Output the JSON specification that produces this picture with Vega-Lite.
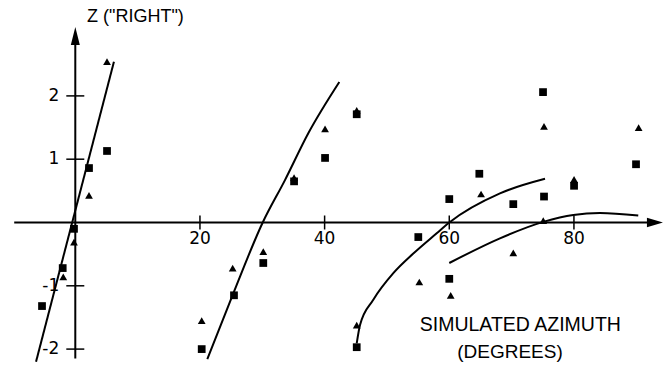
{
  "$schema": "https://vega.github.io/schema/vega-lite/v6.json",
  "width": 666,
  "height": 381,
  "padding": 0,
  "autosize": {"type": "none"},
  "background": "white",
  "config": {"view": {"stroke": null}},
  "datasets": {
    "points": [
      {"azimuth": -5.34, "z": -1.32, "marker": "square"},
      {"azimuth": -2.02, "z": -0.72, "marker": "square"},
      {"azimuth": -0.21, "z": -0.10, "marker": "square"},
      {"azimuth": 2.20, "z": 0.86, "marker": "square"},
      {"azimuth": 5.09, "z": 1.13, "marker": "square"},
      {"azimuth": 20.28, "z": -2.00, "marker": "square"},
      {"azimuth": 25.46, "z": -1.15, "marker": "square"},
      {"azimuth": 30.16, "z": -0.64, "marker": "square"},
      {"azimuth": 35.10, "z": 0.65, "marker": "square"},
      {"azimuth": 40.07, "z": 1.02, "marker": "square"},
      {"azimuth": 45.15, "z": 1.71, "marker": "square"},
      {"azimuth": 45.15, "z": -1.97, "marker": "square"},
      {"azimuth": 55.03, "z": -0.23, "marker": "square"},
      {"azimuth": 60.00, "z": 0.37, "marker": "square"},
      {"azimuth": 60.00, "z": -0.89, "marker": "square"},
      {"azimuth": 64.82, "z": 0.77, "marker": "square"},
      {"azimuth": 70.27, "z": 0.29, "marker": "square"},
      {"azimuth": 75.20, "z": 0.41, "marker": "square"},
      {"azimuth": 75.04, "z": 2.06, "marker": "square"},
      {"azimuth": 80.02, "z": 0.58, "marker": "square"},
      {"azimuth": 89.96, "z": 0.92, "marker": "square"},
      {"azimuth": 5.09, "z": 2.54, "marker": "triangle"},
      {"azimuth": 2.20, "z": 0.43, "marker": "triangle"},
      {"azimuth": -0.21, "z": -0.31, "marker": "triangle"},
      {"azimuth": -1.93, "z": -0.86, "marker": "triangle"},
      {"azimuth": 20.28, "z": -1.55, "marker": "triangle"},
      {"azimuth": 25.25, "z": -0.72, "marker": "triangle"},
      {"azimuth": 30.16, "z": -0.46, "marker": "triangle"},
      {"azimuth": 35.10, "z": 0.71, "marker": "triangle"},
      {"azimuth": 40.07, "z": 1.48, "marker": "triangle"},
      {"azimuth": 45.15, "z": 1.77, "marker": "triangle"},
      {"azimuth": 45.15, "z": -1.62, "marker": "triangle"},
      {"azimuth": 55.19, "z": -0.94, "marker": "triangle"},
      {"azimuth": 60.23, "z": -1.15, "marker": "triangle"},
      {"azimuth": 65.10, "z": 0.45, "marker": "triangle"},
      {"azimuth": 70.27, "z": -0.48, "marker": "triangle"},
      {"azimuth": 75.08, "z": 0.03, "marker": "triangle"},
      {"azimuth": 75.20, "z": 1.52, "marker": "triangle"},
      {"azimuth": 80.02, "z": 0.68, "marker": "triangle"},
      {"azimuth": 90.38, "z": 1.50, "marker": "triangle"}
    ],
    "curves": [
      {"curve": "A", "azimuth": -6.3, "z": -2.2},
      {"curve": "A", "azimuth": 6.2, "z": 2.54},
      {"curve": "B", "azimuth": 21.18, "z": -2.16},
      {"curve": "B", "azimuth": 25.35, "z": -1.12},
      {"curve": "B", "azimuth": 30.07, "z": 0.0},
      {"curve": "B", "azimuth": 33.64, "z": 0.67},
      {"curve": "B", "azimuth": 37.38, "z": 1.41},
      {"curve": "B", "azimuth": 42.36, "z": 2.22},
      {"curve": "C", "azimuth": 45.15, "z": -1.91},
      {"curve": "C", "azimuth": 45.68, "z": -1.62},
      {"curve": "C", "azimuth": 47.81, "z": -1.22},
      {"curve": "C", "azimuth": 51.02, "z": -0.80},
      {"curve": "C", "azimuth": 54.23, "z": -0.49},
      {"curve": "C", "azimuth": 57.98, "z": -0.17},
      {"curve": "C", "azimuth": 60.0, "z": 0.0},
      {"curve": "C", "azimuth": 68.13, "z": 0.46},
      {"curve": "C", "azimuth": 75.36, "z": 0.69},
      {"curve": "D", "azimuth": 60.0, "z": -0.64},
      {"curve": "D", "azimuth": 68.13, "z": -0.25},
      {"curve": "D", "azimuth": 75.08, "z": 0.01},
      {"curve": "D", "azimuth": 79.9, "z": 0.12},
      {"curve": "D", "azimuth": 84.17, "z": 0.15},
      {"curve": "D", "azimuth": 90.32, "z": 0.11}
    ],
    "xticks": [
      {"azimuth": 20, "label": "20"},
      {"azimuth": 40, "label": "40"},
      {"azimuth": 60, "label": "60"},
      {"azimuth": 80, "label": "80"}
    ],
    "yticks": [
      {"z": 2, "label": "2"},
      {"z": 1, "label": "1"},
      {"z": -1, "label": "-1"},
      {"z": -2, "label": "-2"}
    ],
    "one": [{"n": 1}]
  },
  "layer": [
    {
      "data": {"name": "one"},
      "mark": {"type": "rule", "color": "black", "strokeWidth": 2},
      "encoding": {
        "x": {"datum": -9.8, "type": "quantitative", "scale": {"domain": [-12.08, 94.77], "nice": false, "zero": false}, "axis": null},
        "x2": {"datum": 93.5},
        "y": {"datum": 0, "type": "quantitative", "scale": {"domain": [-2.504, 3.515], "nice": false, "zero": false}, "axis": null}
      }
    },
    {
      "data": {"name": "one"},
      "mark": {"type": "rule", "color": "black", "strokeWidth": 2},
      "encoding": {
        "x": {"datum": 0, "type": "quantitative", "scale": {"domain": [-12.08, 94.77], "nice": false, "zero": false}, "axis": null},
        "y": {"datum": -2.15, "type": "quantitative", "scale": {"domain": [-2.504, 3.515], "nice": false, "zero": false}, "axis": null},
        "y2": {"datum": 2.9}
      }
    },
    {
      "data": {"name": "one"},
      "mark": {"type": "point", "shape": "M1,0L-1,-0.6L-1,0.6Z", "filled": true, "color": "black", "opacity": 1, "size": 256},
      "encoding": {
        "x": {"datum": 93.0, "type": "quantitative", "scale": {"domain": [-12.08, 94.77], "nice": false, "zero": false}, "axis": null},
        "y": {"datum": 0, "type": "quantitative", "scale": {"domain": [-2.504, 3.515], "nice": false, "zero": false}, "axis": null}
      }
    },
    {
      "data": {"name": "one"},
      "mark": {"type": "point", "shape": "M0,-1L0.5,1L-0.5,1Z", "filled": true, "color": "black", "opacity": 1, "size": 324},
      "encoding": {
        "x": {"datum": 0, "type": "quantitative", "scale": {"domain": [-12.08, 94.77], "nice": false, "zero": false}, "axis": null},
        "y": {"datum": 2.946, "type": "quantitative", "scale": {"domain": [-2.504, 3.515], "nice": false, "zero": false}, "axis": null}
      }
    },
    {
      "data": {"name": "xticks"},
      "mark": {"type": "tick", "orient": "vertical", "color": "black", "size": 14, "thickness": 1.5, "opacity": 1},
      "encoding": {
        "x": {"field": "azimuth", "type": "quantitative", "scale": {"domain": [-12.08, 94.77], "nice": false, "zero": false}, "axis": null},
        "y": {"datum": 0, "type": "quantitative", "scale": {"domain": [-2.504, 3.515], "nice": false, "zero": false}, "axis": null}
      }
    },
    {
      "data": {"name": "xticks"},
      "mark": {"type": "text", "font": "DejaVu Sans", "fontSize": 17, "dy": 17, "baseline": "middle", "align": "center", "color": "black"},
      "encoding": {
        "x": {"field": "azimuth", "type": "quantitative", "scale": {"domain": [-12.08, 94.77], "nice": false, "zero": false}, "axis": null},
        "y": {"datum": 0, "type": "quantitative", "scale": {"domain": [-2.504, 3.515], "nice": false, "zero": false}, "axis": null},
        "text": {"field": "label"}
      }
    },
    {
      "data": {"name": "yticks"},
      "mark": {"type": "tick", "orient": "horizontal", "color": "black", "size": 18, "thickness": 1.5, "opacity": 1},
      "encoding": {
        "x": {"datum": 0, "type": "quantitative", "scale": {"domain": [-12.08, 94.77], "nice": false, "zero": false}, "axis": null},
        "y": {"field": "z", "type": "quantitative", "scale": {"domain": [-2.504, 3.515], "nice": false, "zero": false}, "axis": null}
      }
    },
    {
      "data": {"name": "yticks"},
      "mark": {"type": "text", "font": "DejaVu Sans", "fontSize": 17, "dx": -16, "baseline": "middle", "align": "right", "color": "black"},
      "encoding": {
        "x": {"datum": 0, "type": "quantitative", "scale": {"domain": [-12.08, 94.77], "nice": false, "zero": false}, "axis": null},
        "y": {"field": "z", "type": "quantitative", "scale": {"domain": [-2.504, 3.515], "nice": false, "zero": false}, "axis": null},
        "text": {"field": "label"}
      }
    },
    {
      "data": {"name": "curves"},
      "mark": {"type": "line", "color": "black", "strokeWidth": 2, "interpolate": "monotone"},
      "encoding": {
        "x": {"field": "azimuth", "type": "quantitative", "scale": {"domain": [-12.08, 94.77], "nice": false, "zero": false}, "axis": null},
        "y": {"field": "z", "type": "quantitative", "scale": {"domain": [-2.504, 3.515], "nice": false, "zero": false}, "axis": null},
        "detail": {"field": "curve"}
      }
    },
    {
      "data": {"name": "points"},
      "mark": {"type": "point", "filled": true, "color": "black", "opacity": 1, "size": 60},
      "encoding": {
        "x": {"field": "azimuth", "type": "quantitative", "scale": {"domain": [-12.08, 94.77], "nice": false, "zero": false}, "axis": null},
        "y": {"field": "z", "type": "quantitative", "scale": {"domain": [-2.504, 3.515], "nice": false, "zero": false}, "axis": null},
        "shape": {"field": "marker", "type": "nominal", "scale": {"domain": ["square", "triangle"], "range": ["square", "triangle-up"]}, "legend": null}
      }
    },
    {
      "data": {"name": "one"},
      "mark": {"type": "text", "text": "Z (\"RIGHT\")", "font": "Liberation Sans", "fontSize": 18, "align": "left", "baseline": "middle", "color": "black"},
      "encoding": {
        "x": {"datum": 1.88, "type": "quantitative", "scale": {"domain": [-12.08, 94.77], "nice": false, "zero": false}, "axis": null},
        "y": {"datum": 3.25, "type": "quantitative", "scale": {"domain": [-2.504, 3.515], "nice": false, "zero": false}, "axis": null}
      }
    },
    {
      "data": {"name": "one"},
      "mark": {"type": "text", "text": "SIMULATED AZIMUTH", "font": "Liberation Sans", "fontSize": 19.5, "align": "center", "baseline": "middle", "color": "black"},
      "encoding": {
        "x": {"datum": 71.4, "type": "quantitative", "scale": {"domain": [-12.08, 94.77], "nice": false, "zero": false}, "axis": null},
        "y": {"datum": -1.62, "type": "quantitative", "scale": {"domain": [-2.504, 3.515], "nice": false, "zero": false}, "axis": null}
      }
    },
    {
      "data": {"name": "one"},
      "mark": {"type": "text", "text": "(DEGREES)", "font": "Liberation Sans", "fontSize": 19, "align": "center", "baseline": "middle", "color": "black"},
      "encoding": {
        "x": {"datum": 69.74, "type": "quantitative", "scale": {"domain": [-12.08, 94.77], "nice": false, "zero": false}, "axis": null},
        "y": {"datum": -2.05, "type": "quantitative", "scale": {"domain": [-2.504, 3.515], "nice": false, "zero": false}, "axis": null}
      }
    }
  ]
}
